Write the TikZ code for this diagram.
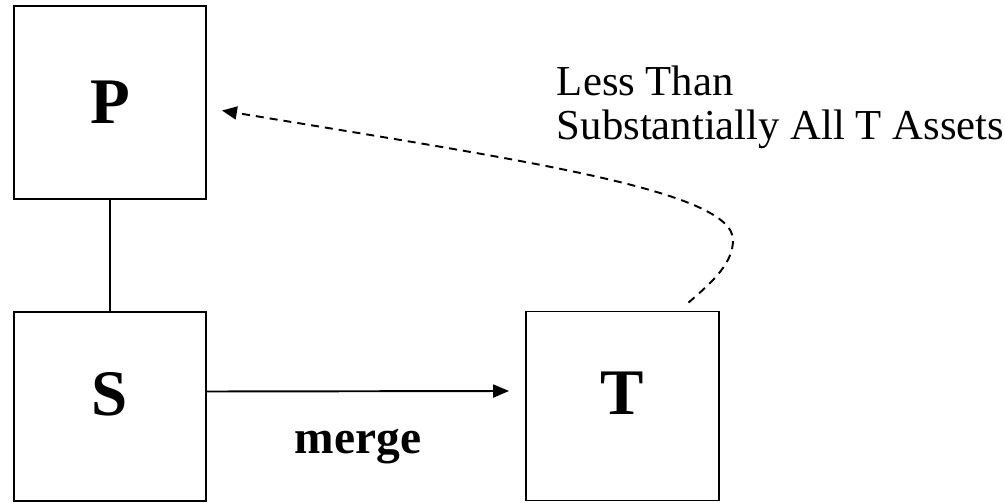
\documentclass[tikz,border=0pt]{standalone}
\usepackage{fontspec}
\setmainfont{Liberation Serif}
\usetikzlibrary{arrows.meta,positioning}

\begin{document}
\begin{tikzpicture}[x=0.02cm, y=-0.02cm, line width=1.1pt,
  box/.style={rectangle,draw,minimum width=3.84cm,inner sep=0pt,
    font=\fontsize{37}{37}\selectfont\bfseries},
  merger/.style={-{Triangle[length=0.32cm,width=0.26cm]}},
  transfer/.style={-{Triangle[length=0.3cm,width=0.26cm]},dash pattern=on 0.16cm off 0.12cm}]
  \useasboundingbox (0,0) rectangle (1005,503);
  \node[box,minimum height=3.86cm] (P) at (110,102.5) {P};
  \node[box,minimum height=3.78cm,text depth=0.52cm] (S) at (110,406.5) {S};
  \node[box,minimum height=3.78cm,minimum width=3.86cm,text depth=0.52cm] (T) at (622.5,406) {T};
  \draw (P) -- (S);
  \draw[merger] ([yshift=0.3cm]S.east) -- ([yshift=0.3cm,xshift=-0.32cm]T.west)
    node[midway,below=0.62cm,font=\fontsize{27}{27}\selectfont\bfseries] (mrg) {merge};
  \node[font=\fontsize{24.3}{25}\selectfont,align=left,anchor=north west,inner sep=0pt]
    (lbl) at (556,65) {Less Than\\Substantially All T Assets};
  \draw[transfer] ([shift={(66,-8)}]T.north) .. controls (715,280) and (733,262) .. (733,240)
    .. controls (733,190) and (520,160) .. ([shift={(15,8)}]P.east);
\end{tikzpicture}
\end{document}
